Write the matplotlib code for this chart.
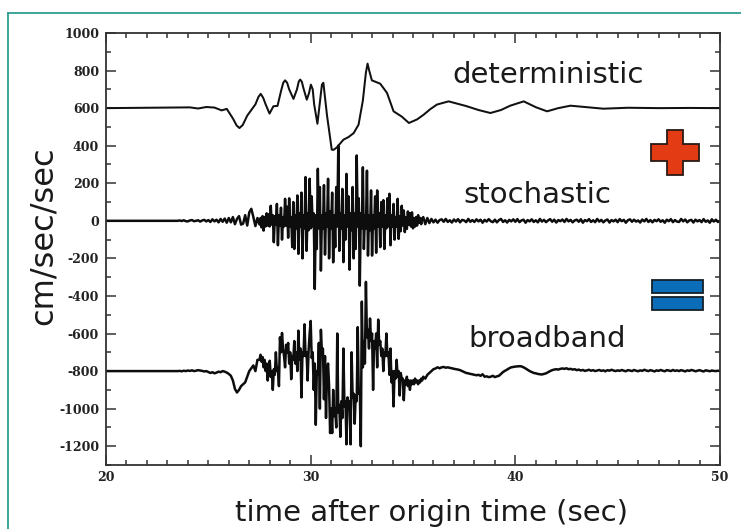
import numpy as np
import matplotlib
matplotlib.use("Agg")
import matplotlib.pyplot as plt
from matplotlib.lines import Line2D
from matplotlib.patches import Polygon, Rectangle
from matplotlib.ticker import MultipleLocator

plt.rcParams["axes.unicode_minus"] = False

# deterministic synthetic (cm/sec/sec), offset +600
det_t = [20.0, 24.1, 24.5, 24.9, 25.3, 25.65, 25.9, 26.2, 26.38, 26.52,
         26.68, 26.9, 27.3, 27.45, 27.56, 27.68, 27.8, 27.99, 28.18, 28.38,
         28.55, 28.66, 28.75, 28.85, 28.95, 29.16, 29.33, 29.42, 29.49, 29.57,
         29.65, 29.81, 29.92, 30.01, 30.1, 30.17, 30.33, 30.46, 30.55, 30.62,
         30.8, 31.03, 31.12, 31.27, 31.6, 31.85, 32.1, 32.34, 32.55, 32.7,
         32.78, 32.86, 32.99, 33.4, 33.73, 34.05, 34.45, 34.8, 35.2, 35.52,
         35.85, 36.17, 36.74, 37.6, 38.2, 38.78, 39.3, 39.75, 40.41, 41.0,
         41.55, 42.1, 42.69, 43.5, 44.3, 45.5, 47.0, 48.5, 50.0]
det_v = [600, 604, 598, 606, 603, 588, 596, 545, 508, 494,
         510, 560, 620, 660, 676, 655, 620, 571, 610, 612,
         690, 735, 748, 735, 700, 649, 700, 742, 752, 740,
         705, 645, 680, 725, 700, 620, 517, 640, 725, 735,
         560, 379, 378, 390, 432, 446, 467, 512, 640, 790,
         837, 800, 748, 730, 681, 583, 555, 521, 540, 565,
         595, 619, 636, 611, 590, 574, 590, 613, 636, 605,
         583, 600, 613, 605, 597, 602, 600, 601, 600]

# stochastic / broadband records: (start sec, sample step) per segment,
# finer sampling through the strong-motion window
segments = [(23.5, 0.1), (27.5, 0.05), (35.5, 0.1)]

stoch_pre = [
    0, 2, -1, 3, -2,
    -3, 2, 4, -2, 0, 3, -4, 2, 5, -3,
    4, -6, 8, -3, 6, -8, 10, -5, 12, -10,
    15, -8, 20, -18, 10, 25, -20, -15, 30, -25,
    45, 64, 20, -28, 15,
]
stoch_core = [
    -20, 15, -35, 25, -52, 20, -30, 40, -25, 35,
    -30, 80, -20, 30, -114, 25, -20, 90, -130, 30,
    -25, 70, -100, 20, -30, 117, -25, 75, -90, 120,
    -30, 20, -140, 100, -150, 30, -40, 135, -176, 40,
    -30, 150, -200, 30, -40, 233, -160, 40, -50, 224,
    -40, 130, -30, 40, -363, 30, -150, 277, -40, 180,
    -265, 30, -40, 190, -180, 40, -30, 224, -200, 50,
    -40, 150, -221, 30, -140, 180, -30, 400, -160, 40,
    -40, 170, -220, 30, -100, 250, -30, 130, -260, 40,
    -50, 180, -200, 40, -150, 348, -30, 120, -345, 40,
    -40, 285, -150, 30, -40, 267, -185, 30, -50, 162,
    -185, 30, -40, 130, -170, 162, -30, 40, -140, 100,
    -30, 110, -150, 30, -40, 120, -30, 144, -130, 30,
    -30, 90, -100, 20, -30, 117, -96, 25, -55, 80,
    -25, 55, -60, 20, -43, 50, -20, 40, -30, 45,
    -40, 15, -30, 20, -25, 30, -10, 15, -18, 12,
]
stoch_post = [
    20, -18, 15, -12, 10,
    -8, 6, -10, 4, 8, -5, 10, -6, 3, -9,
    7, -4, 9, -8, 5, 2, -7, 10, -5, 4,
    -6, 8, -3, 6, -10, 5, -4, 9, -2, -7,
    6, -8, 4, 10, -6, 3, -9, 5, -3, 8,
    -5, 9, -7, 2, 6, -10, 4, -3, 8, -6,
    3, -8, 10, -4, 5, -7, 2, 9, -5, 6,
    -9, 4, -2, 7, -6, 10, -3, 5, -8, 2,
    6, -5, 8, -10, 4, -2, 9, -6, 3, -7,
    10, -4, 5, -8, 2, 7, -9, 4, -3, 6,
    -7, 9, -2, 5, -10, 3, 8, -5, 6, -4,
    2, -9, 7, -3, 10, -6, 4, -8, 5, -2,
    8, -5, 3, -10, 6, -2, 9, -7, 4, -4,
    -6, 10, -3, 7, -8, 2, 5, -9, 6, -3,
    4, -7, 9, -5, 2, -10, 8, -4, 6, -6,
    0,
]

broad_pre = [
    -800, -799, -801, -798, -800,
    -797, -799, -796, -800, -798, -795, -797, -799, -802, -800,
    -805, -810, -806, -812, -808, -803, -806, -800, -803, -808,
    -815, -825, -850, -895, -914, -900, -880, -870, -860, -830,
    -800, -785, -770, -800, -740,
]
broad_core = [
    -740, -713, -750, -725, -780, -740, -800, -760, -850, -790,
    -745, -830, -800, -900, -790, -820, -700, -800, -780, -880,
    -620, -700, -597, -680, -720, -780, -660, -700, -650, -760,
    -700, -843, -720, -740, -640, -760, -700, -800, -585, -740,
    -680, -940, -700, -720, -551, -720, -700, -850, -690, -600,
    -533, -730, -700, -900, -760, -1086, -800, -820, -650, -1000,
    -580, -700, -680, -950, -720, -1050, -800, -760, -880, -1130,
    -1000, -1130, -900, -1040, -1000, -1100, -600, -1020, -980, -1150,
    -960, -1050, -680, -990, -960, -1190, -940, -980, -960, -1190,
    -700, -940, -920, -1080, -930, -960, -566, -920, -900, -1200,
    -430, -780, -640, -760, -325, -620, -580, -680, -520, -640,
    -600, -900, -640, -680, -600, -780, -526, -660, -640, -720,
    -680, -800, -700, -720, -600, -720, -700, -820, -680, -860,
    -800, -988, -800, -840, -740, -830, -800, -930, -810, -840,
    -840, -955, -850, -870, -830, -880, -850, -900, -850, -870,
    -850, -870, -840, -860, -850, -870, -850, -860, -840, -850,
]
broad_post = [
    -830, -840, -820, -810, -800,
    -790, -786, -780, -785, -780, -778, -782, -780, -783, -785,
    -788, -790, -792, -795, -800, -805, -810, -812, -815, -817,
    -820, -822, -820, -825, -817, -830, -828, -832, -830, -825,
    -832, -828, -825, -815, -805, -798, -792, -785, -780, -778,
    -776, -775, -774, -775, -780, -786, -793, -800, -805, -810,
    -812, -815, -817, -818, -815, -812, -806, -800, -795, -792,
    -790, -792, -788, -786, -788, -785, -790, -788, -792, -790,
    -795, -792, -797, -794, -799, -796, -793, -798, -795, -800,
    -797, -794, -799, -796, -801, -795, -798, -793, -797, -800,
    -796, -799, -794, -798, -801, -795, -797, -800, -794, -798,
    -801, -796, -799, -793, -797, -800, -795, -798, -802, -796,
    -799, -794, -798, -801, -795, -797, -800, -794, -799, -796,
    -800, -795, -798, -802, -796, -799, -794, -797, -801, -798,
    -795, -799, -802, -796, -798, -801, -797, -799, -800, -798,
    -800,
]

trace_labels = ["deterministic", "stochastic", "broadband"]
x_ticks = [20, 30, 40, 50]
y_ticks = list(range(-1200, 1001, 200))


def record(parts, baseline):
    t = [np.array([20.0])]
    for (t0, dt), vals in zip(segments, parts):
        t.append(t0 + dt * np.arange(len(vals)))
    return np.concatenate(t), np.r_[baseline, np.concatenate(parts)]


W, H = 741, 529
fig = plt.figure(figsize=(W / 100, H / 100), dpi=100)
fig.patch.set_facecolor("white")

# teal frame around the panel
teal = "#2f9e90"
fig.add_artist(Line2D([8 / W, 8 / W], [0, 1 - 13 / H], color=teal, lw=1.3,
                      transform=fig.transFigure))
fig.add_artist(Line2D([8 / W, 1], [1 - 13 / H, 1 - 13 / H], color=teal, lw=1.3,
                      transform=fig.transFigure))

ax = fig.add_axes([106 / W, 1 - 465 / H, (720 - 106) / W, (465 - 33) / H])

ax.plot(det_t, det_v, color="#111111", lw=1.45, solid_joinstyle="round")
ax.plot(*record([stoch_pre, stoch_core, stoch_post], 0), color="#0d0d0d",
        lw=1.8, solid_joinstyle="round")
ax.plot(*record([broad_pre, broad_core, broad_post], -800), color="#0d0d0d",
        lw=1.8, solid_joinstyle="round")

ax.set_xlim(20, 50)
ax.set_ylim(-1300, 1000)
ax.set_xticks(x_ticks)
ax.set_yticks(y_ticks)
ax.xaxis.set_minor_locator(MultipleLocator(1))
ax.yaxis.set_minor_locator(MultipleLocator(100))
ax.tick_params(which="both", direction="in", top=True, right=True,
               color="#333333", width=1.1)
ax.tick_params(which="major", length=7)
ax.tick_params(which="minor", length=3.5)
ax.tick_params(axis="x", pad=4)
ax.tick_params(axis="y", pad=5)
for lab in ax.get_xticklabels() + ax.get_yticklabels():
    lab.set_family("DejaVu Serif")
    lab.set_weight("bold")
    lab.set_fontsize(9)
    lab.set_color("#222222")
for sp in ax.spines.values():
    sp.set_color("#333333")
    sp.set_linewidth(1.3)

label_font = dict(family=["DejaVu Sans"], color="#1a1a1a")
fig.text(43 / W, 1 - 236 / H, "cm/sec/sec", rotation=90, ha="center",
         va="center", fontsize=23, **label_font)
fig.text(431 / W, 1 - 521 / H, "time after origin time (sec)", ha="center",
         va="baseline", fontsize=21, **label_font)

# trace names
for name, (px, py) in zip(trace_labels, [(548, 83), (537, 203), (547, 347)]):
    fig.text(px / W, 1 - py / H, name, ha="center", va="baseline",
             fontsize=21, **label_font)

# plus sign
cx, cy = 674.5, 152.5
arm, half_w, half_h = 24, 8, 8.5
pts = [(-half_w, -arm + 1.5), (half_w, -arm + 1.5), (half_w, -half_h),
       (arm, -half_h), (arm, half_h), (half_w, half_h), (half_w, arm - 1.5),
       (-half_w, arm - 1.5), (-half_w, half_h), (-arm, half_h), (-arm, -half_h),
       (-half_w, -half_h)]
plus = Polygon([((cx + dx) / W, 1 - (cy + dy) / H) for dx, dy in pts],
               closed=True, facecolor="#e33c14", edgecolor="#2a1a14", lw=1.3,
               transform=fig.transFigure)
fig.add_artist(plus)

# equals sign
for top, bottom in [(280, 292.5), (297, 310)]:
    fig.add_artist(Rectangle((652 / W, 1 - bottom / H), (703 - 652) / W,
                             (bottom - top) / H, facecolor="#0b6cb8",
                             edgecolor="#14202a", lw=1.3,
                             transform=fig.transFigure))

fig.savefig("out.png", dpi=100)
